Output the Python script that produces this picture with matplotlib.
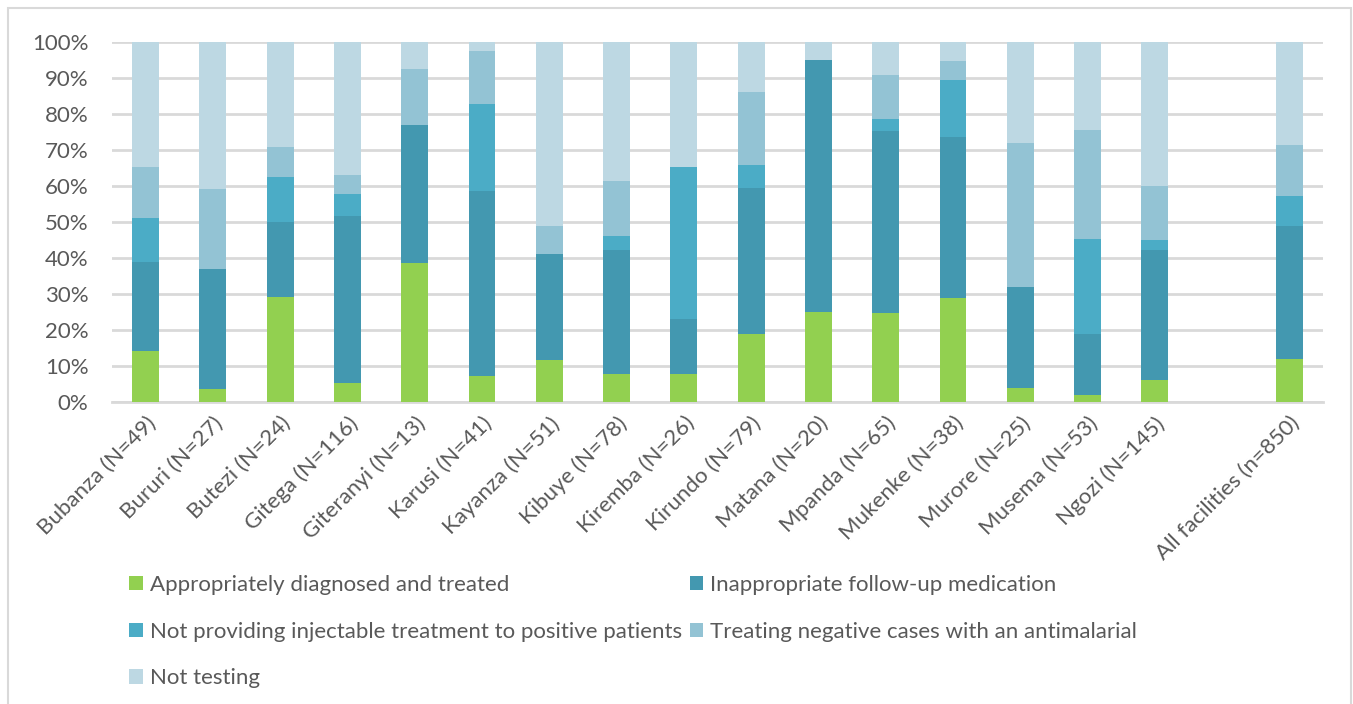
import numpy as np
import matplotlib.pyplot as plt
from matplotlib.patches import Rectangle

plt.rcParams['font.family'] = ['Lato', 'DejaVu Sans']

# Facilities (empty slot keeps a gap before the overall bar)
facilities = ['Bubanza (N=49)', 'Bururi (N=27)', 'Butezi (N=24)', 'Gitega (N=116)',
              'Giteranyi (N=13)', 'Karusi (N=41)', 'Kayanza (N=51)', 'Kibuye (N=78)',
              'Kiremba (N=26)', 'Kirundo (N=79)', 'Matana (N=20)', 'Mpanda (N=65)',
              'Mukenke (N=38)', 'Murore (N=25)', 'Musema (N=53)', 'Ngozi (N=145)',
              '', 'All facilities (n=850)']

# Share of cases per outcome (%)
appropriate = [14.3, 3.7, 29.2, 5.2, 38.5, 7.3, 11.8, 7.7, 7.7, 19.0,
               25.0, 24.6, 28.9, 4.0, 1.9, 6.2, 0, 12.0]
inappropriate = [24.5, 33.3, 20.8, 46.6, 38.5, 51.2, 29.4, 34.6, 15.4, 40.5,
                 70.0, 50.8, 44.7, 28.0, 17.0, 35.9, 0, 37.0]
no_injectable = [12.2, 0, 12.5, 6.0, 0, 24.4, 0, 3.8, 42.3, 6.3,
                 0, 3.1, 15.8, 0, 26.4, 2.8, 0, 8.3]
treating_negative = [14.3, 22.2, 8.3, 5.2, 15.4, 14.6, 7.8, 15.4, 0, 20.3,
                     0, 12.3, 5.3, 40.0, 30.2, 15.2, 0, 14.1]
not_testing = [34.7, 40.8, 29.2, 37.0, 7.6, 2.5, 51.0, 38.5, 34.6, 13.9,
               5.0, 9.2, 5.3, 28.0, 24.5, 39.9, 0, 28.6]

series = [
    ('Appropriately diagnosed and treated', appropriate, '#92D050'),
    ('Inappropriate follow-up medication', inappropriate, '#4398B0'),
    ('Not providing injectable treatment to positive patients', no_injectable, '#4BACC6'),
    ('Treating negative cases with an antimalarial', treating_negative, '#93C3D4'),
    ('Not testing', not_testing, '#BDD8E3'),
]

GRAY = '#595959'
GRID = '#D9D9D9'
FS = 16

fig = plt.figure(figsize=(13.53, 7.04), dpi=100)
ax = fig.add_axes([0.0828, 0.429, 0.895, 0.5113])

x = np.arange(len(facilities))
bottom = np.zeros(len(facilities))
handles = []
for label, vals, color in series:
    vals = np.array(vals)
    bars = ax.bar(x, vals, 0.4, bottom=bottom, color=color, label=label, zorder=3)
    handles.append(bars)
    bottom += vals

ax.set_xlim(-0.5, len(facilities) - 0.5)
ax.set_ylim(0, 100)
ax.set_yticks(np.arange(0, 101, 10))
ax.set_yticklabels([f'{v}%' for v in range(0, 101, 10)])
ax.yaxis.grid(True, color=GRID, linewidth=2, zorder=0)
ax.set_xticks(x)
ax.set_xticklabels(facilities, rotation=45, ha='right', rotation_mode='anchor')
ax.tick_params(axis='both', length=0, labelsize=FS, colors=GRAY)
ax.tick_params(axis='y', pad=17)
ax.tick_params(axis='x', pad=8)
for side in ['top', 'right', 'left']:
    ax.spines[side].set_visible(False)
ax.spines['bottom'].set_color(GRID)
ax.spines['bottom'].set_linewidth(2)

# legend: two columns, filled column-wise
order = [0, 2, 4, 1, 3]
leg = fig.legend([handles[i] for i in order], [series[i][0] for i in order],
                 loc='upper left', bbox_to_anchor=(0.089, 0.196), ncol=2,
                 frameon=False, fontsize=FS, handlelength=0.62, handleheight=0.62,
                 handletextpad=0.3, columnspacing=0.35, labelspacing=1.2,
                 borderaxespad=0)
for t in leg.get_texts():
    t.set_color(GRAY)

# outer frame
fig.patches.append(Rectangle((8 / 1353, -0.05), 1343 / 1353, 1.05 - 8 / 704,
                             transform=fig.transFigure, fill=False,
                             edgecolor=GRID, linewidth=1.5))

fig.savefig('out.png', dpi=100)
